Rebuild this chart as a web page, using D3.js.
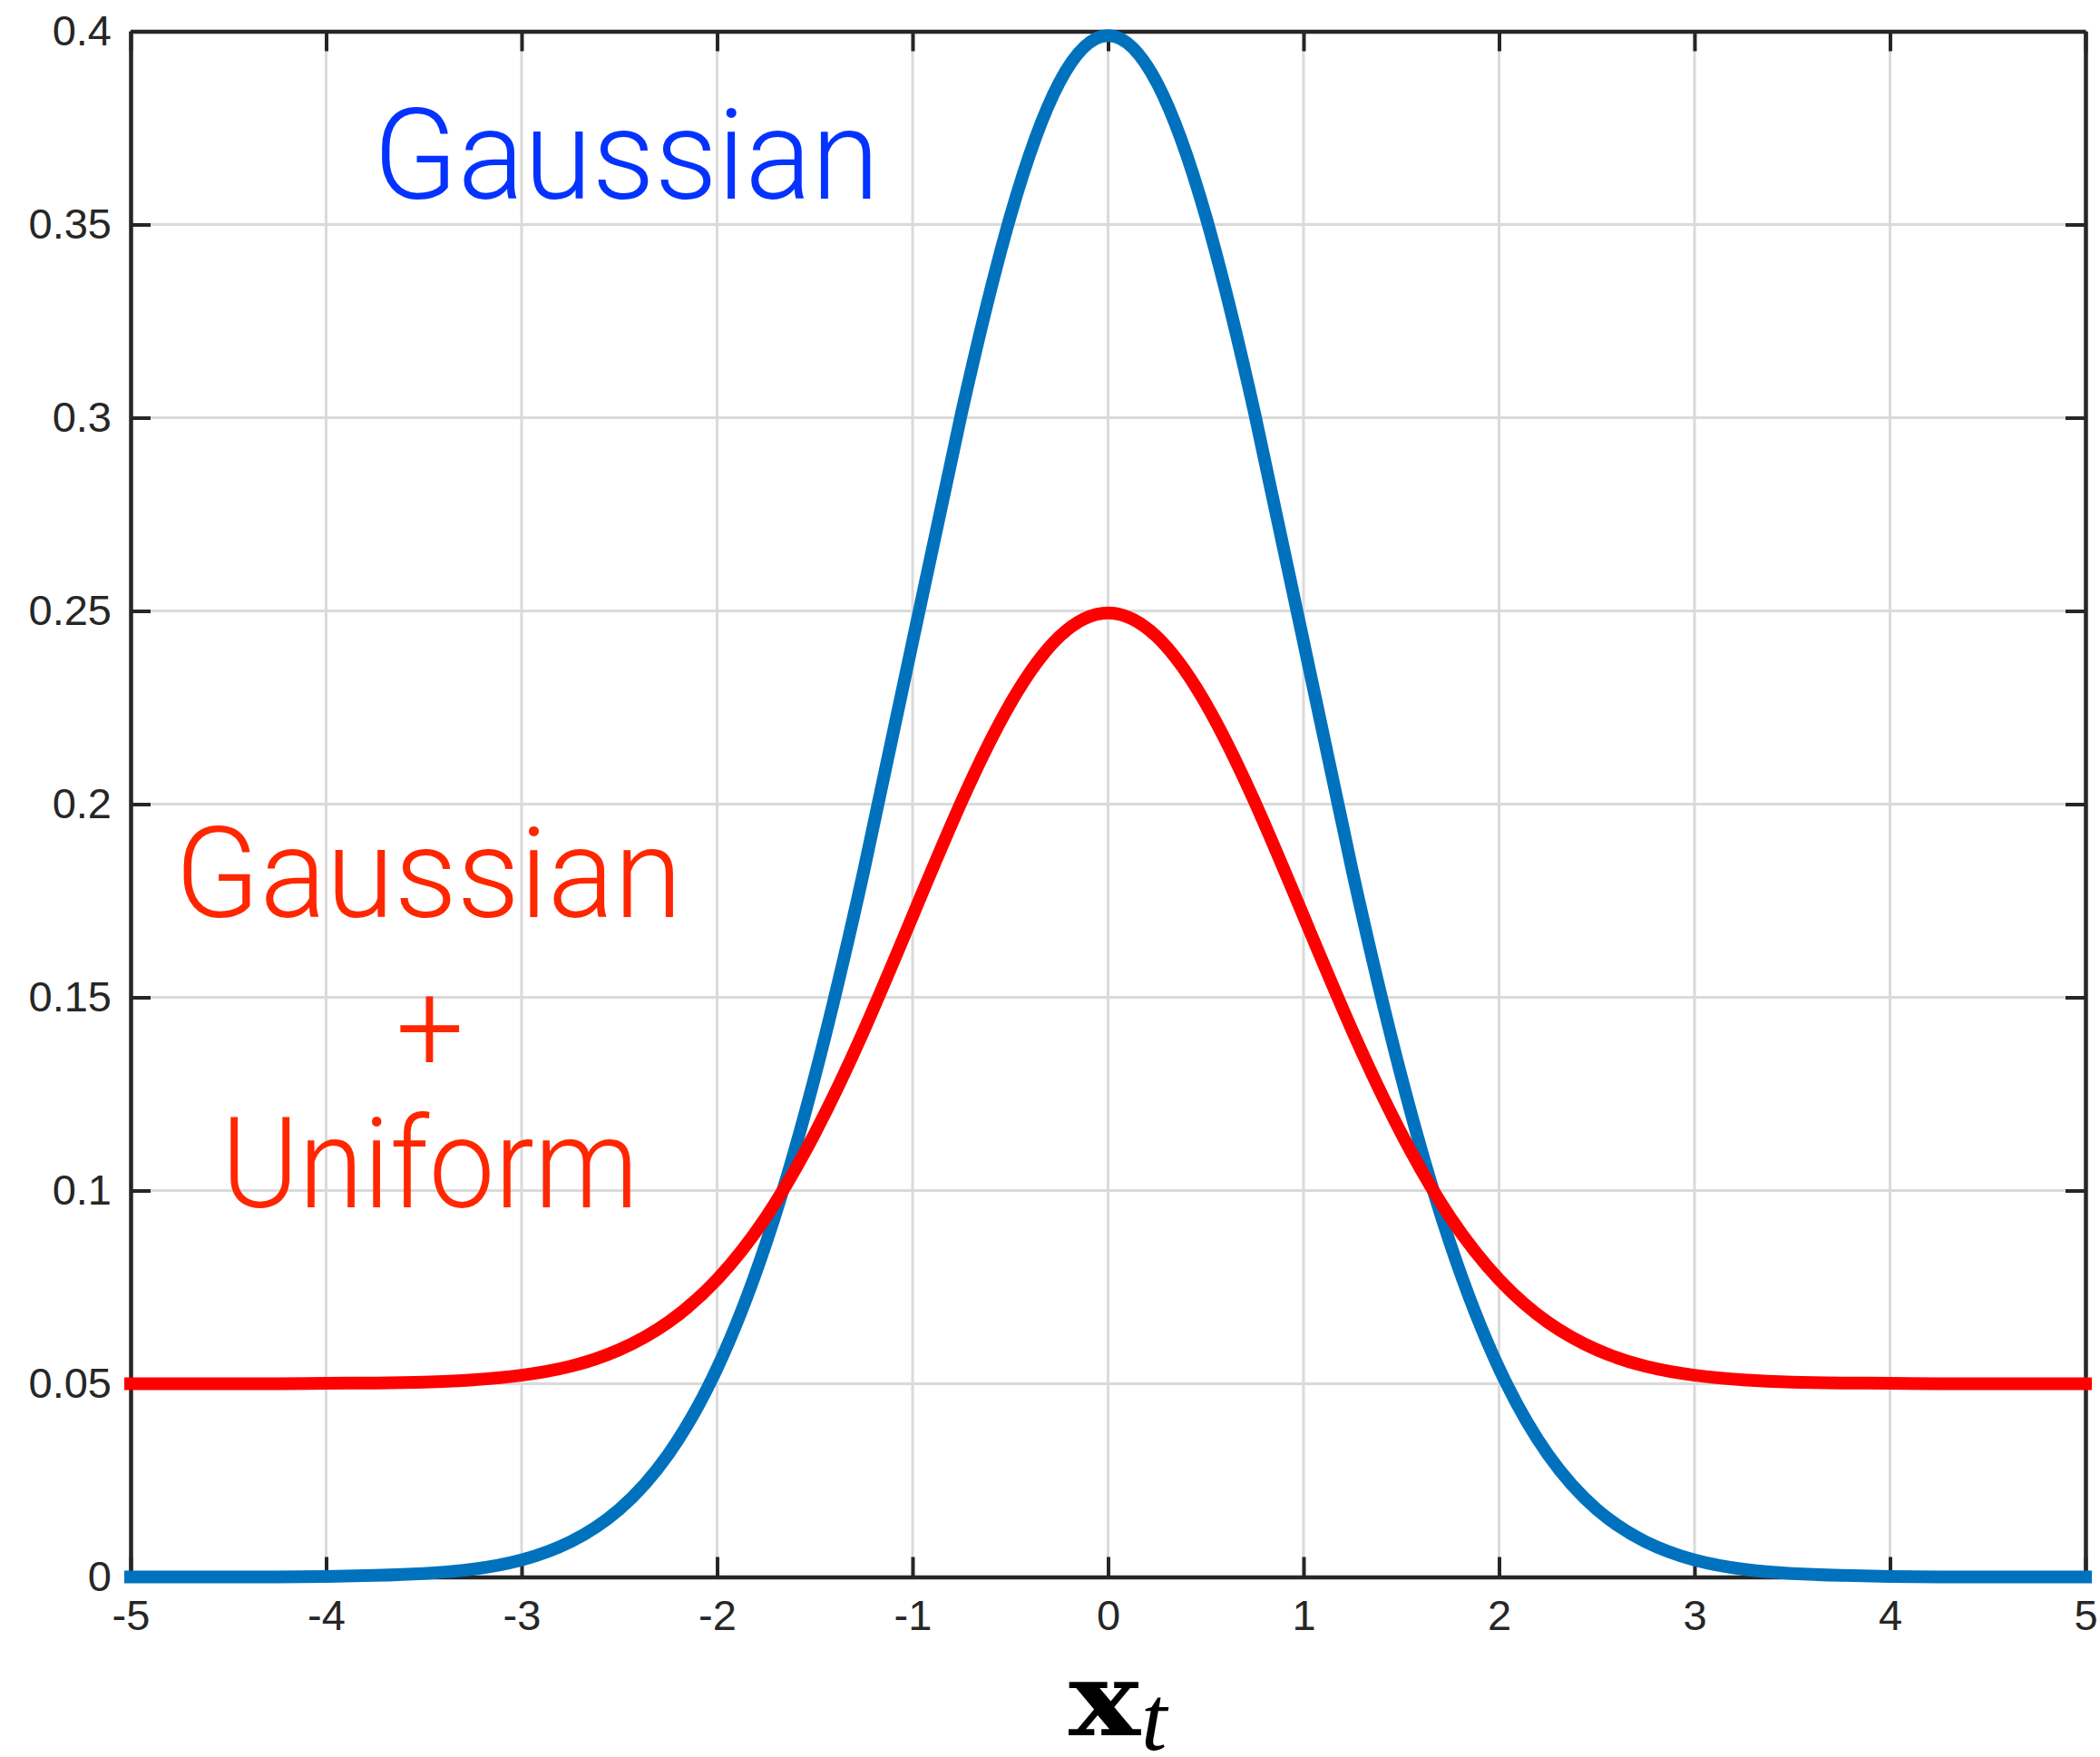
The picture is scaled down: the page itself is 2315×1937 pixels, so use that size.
<!DOCTYPE html>
<html>
<head>
<meta charset="utf-8">
<script src="https://cdn.jsdelivr.net/npm/d3@7"></script>
<style>
  html, body { margin: 0; padding: 0; background: #ffffff; }
  svg { display: block; }
</style>
</head>
<body>
<svg id="chart" width="2315" height="1937"></svg>
<script>
// Sample positions along x
const xValues = [-5, -4.75, -4.5, -4.25, -4, -3.75, -3.5, -3.25, -3, -2.75, -2.5, -2.25, -2, -1.75, -1.5, -1.25, -1, -0.75, -0.5, -0.25,
  0, 0.25, 0.5, 0.75, 1, 1.25, 1.5, 1.75, 2, 2.25, 2.5, 2.75, 3, 3.25, 3.5, 3.75, 4, 4.25, 4.5, 4.75, 5];

// Density of the pure Gaussian
const gaussianValues = [0.0000, 0.0000, 0.0000, 0.0000, 0.0001, 0.0004, 0.0009, 0.0020, 0.0044, 0.0091, 0.0175, 0.0317, 0.0540, 0.0863, 0.1295, 0.1826, 0.2420, 0.3011, 0.3521, 0.3867,
  0.3989, 0.3867, 0.3521, 0.3011, 0.2420, 0.1826, 0.1295, 0.0863, 0.0540, 0.0317, 0.0175, 0.0091, 0.0044, 0.0020, 0.0009, 0.0004, 0.0001, 0.0000, 0.0000, 0.0000, 0.0000];

// Density of the Gaussian + uniform mixture
const mixtureValues = [0.0500, 0.0500, 0.0500, 0.0500, 0.0501, 0.0502, 0.0504, 0.0510, 0.0522, 0.0545, 0.0588, 0.0659, 0.0770, 0.0931, 0.1148, 0.1413, 0.1710, 0.2006, 0.2260, 0.2433,
  0.2495, 0.2433, 0.2260, 0.2006, 0.1710, 0.1413, 0.1148, 0.0931, 0.0770, 0.0659, 0.0588, 0.0545, 0.0522, 0.0510, 0.0504, 0.0502, 0.0501, 0.0500, 0.0500, 0.0500, 0.0500];

// Axis ticks
const xTicks = [-5, -4, -3, -2, -1, 0, 1, 2, 3, 4, 5];
const xTickLabels = ["-5", "-4", "-3", "-2", "-1", "0", "1", "2", "3", "4", "5"];
const yTicks = [0, 0.05, 0.1, 0.15, 0.2, 0.25, 0.3, 0.35, 0.4];
const yTickLabels = ["0", "0.05", "0.1", "0.15", "0.2", "0.25", "0.3", "0.35", "0.4"];

const svg = d3.select("#chart");

const plot = { left: 144, right: 2299, top: 34.5, bottom: 1738.5 };

const x = d3.scaleLinear().domain([-5, 5]).range([plot.left, plot.right]);
const y = d3.scaleLinear().domain([0, 0.4]).range([plot.bottom, plot.top]);

const axisColor = "#262626";
const gridColor = "#dadada";
const tickLen = 22;

// Grid
const grid = svg.append("g").attr("class", "grid");
grid.selectAll("line.gx").data(xTicks).join("line")
  .attr("class", "gx")
  .attr("x1", d => x(d)).attr("x2", d => x(d))
  .attr("y1", plot.top).attr("y2", plot.bottom)
  .attr("stroke", gridColor).attr("stroke-width", 3);
grid.selectAll("line.gy").data(yTicks).join("line")
  .attr("class", "gy")
  .attr("x1", plot.left).attr("x2", plot.right)
  .attr("y1", d => y(d)).attr("y2", d => y(d))
  .attr("stroke", gridColor).attr("stroke-width", 3);

// Axes with inward ticks on all four sides
const fontTicks = "'Liberation Sans', Arial, Helvetica, sans-serif";

const bottomAxis = d3.axisBottom(x).tickValues(xTicks).tickSizeInner(-tickLen).tickSizeOuter(0)
  .tickFormat((d, i) => xTickLabels[i]);
const topAxis = d3.axisTop(x).tickValues(xTicks).tickSizeInner(-tickLen).tickSizeOuter(0).tickFormat("");
const leftAxis = d3.axisLeft(y).tickValues(yTicks).tickSizeInner(-tickLen).tickSizeOuter(0)
  .tickFormat((d, i) => yTickLabels[i]);
const rightAxis = d3.axisRight(y).tickValues(yTicks).tickSizeInner(-tickLen).tickSizeOuter(0).tickFormat("");

function styleAxis(g) {
  g.select(".domain").attr("stroke", axisColor).attr("stroke-width", 4.5);
  g.selectAll(".tick line").attr("stroke", axisColor).attr("stroke-width", 4);
  g.selectAll(".tick text").attr("fill", axisColor)
    .attr("font-family", fontTicks).attr("font-size", 47);
}

svg.append("g").attr("transform", `translate(0,${plot.bottom})`).call(bottomAxis).call(styleAxis)
  .call(g => g.selectAll(".tick text").attr("y", 58.5).attr("dy", 0));
svg.append("g").attr("transform", `translate(0,${plot.top})`).call(topAxis).call(styleAxis);
svg.append("g").attr("transform", `translate(${plot.left},0)`).call(leftAxis).call(styleAxis)
  .call(g => g.selectAll(".tick text").attr("x", -21).attr("dy", 0).attr("y", 14.5));
svg.append("g").attr("transform", `translate(${plot.right},0)`).call(rightAxis).call(styleAxis);

// Curves
const line = d3.line()
  .x((d, i) => x(xValues[i]))
  .y(d => y(d))
  .curve(d3.curveNatural);

svg.append("path").datum(gaussianValues)
  .attr("d", line)
  .attr("fill", "none").attr("stroke", "#0072BD")
  .attr("stroke-width", 14).attr("stroke-linecap", "square").attr("stroke-linejoin", "round");

svg.append("path").datum(mixtureValues)
  .attr("d", line)
  .attr("fill", "none").attr("stroke", "#FF0000")
  .attr("stroke-width", 14).attr("stroke-linecap", "square").attr("stroke-linejoin", "round");

// Annotations
const fontNote = "Roboto, 'Liberation Sans', sans-serif";

svg.append("text")
  .attr("x", 411.5).attr("y", 219)
  .attr("font-family", fontNote).attr("font-weight", 300).attr("font-size", 139)
  .attr("fill", "#0433FF")
  .attr("textLength", 558).attr("lengthAdjust", "spacingAndGlyphs")
  .text("Gaussian");

const redNote = [
  { text: "Gaussian", x: 193, y: 1011, w: 559 },
  { text: "+", x: 436.5, y: 1181, w: 75 },
  { text: "Uniform", x: 244, y: 1331, w: 460 }
];
svg.selectAll("text.note").data(redNote).join("text")
  .attr("class", "note")
  .attr("x", d => d.x).attr("y", d => d.y)
  .attr("font-family", fontNote).attr("font-weight", 300).attr("font-size", 139)
  .attr("fill", "#FF2600")
  .attr("textLength", d => d.w).attr("lengthAdjust", "spacingAndGlyphs")
  .text(d => d.text);

// x-axis label: bold x with italic subscript t
svg.append("text")
  .attr("x", 1178).attr("y", 1913)
  .attr("font-family", "'DejaVu Serif', serif").attr("font-weight", "bold").attr("font-size", 112)
  .attr("fill", "#000000")
  .attr("textLength", 79).attr("lengthAdjust", "spacingAndGlyphs")
  .text("x");
svg.append("text")
  .attr("x", 1258).attr("y", 1929)
  .attr("font-family", "'Liberation Serif', 'Times New Roman', serif").attr("font-style", "italic").attr("font-size", 102)
  .attr("fill", "#000000")
  .text("t");
</script>
</body>
</html>
